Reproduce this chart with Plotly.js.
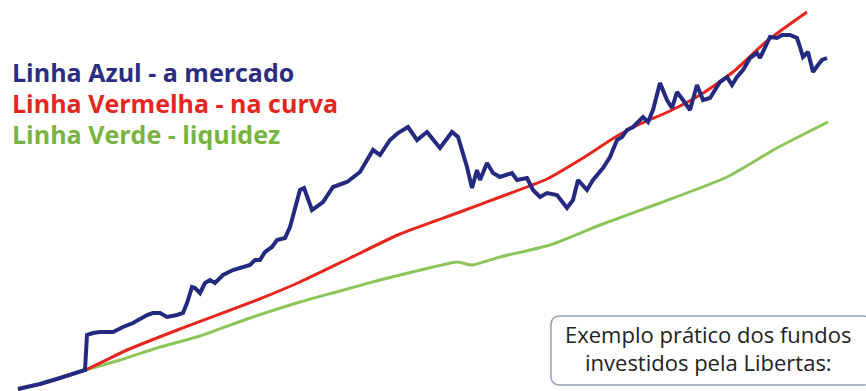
<!DOCTYPE html>
<html><head><meta charset="utf-8">
<script src="https://cdn.plot.ly/plotly-3.0.1.min.js"></script>
<style>html,body{margin:0;padding:0;background:#fff}#chart{width:866px;height:391px}</style>
</head><body><div id="chart"></div>
<script>
// Blue line - a mercado (market value)
var blueX = [18,40,60,85,87,93,100,113,123,133,147,153,160,167,177,183,187,192,195,200,205,210,215,223,233,243,250,255,260,265,272,277,285,290,295,300,304,312,323,333,347,360,373,380,390,398,408,417,427,440,452,458,467,472,477,480,487,493,500,512,517,527,533,540,547,557,567,573,578,587,593,603,610,617,622,627,633,640,643,648,653,660,667,672,677,683,690,697,703,710,720,727,732,737,743,750,757,760,770,777,782,790,797,800,803,808,813,818,822,827];
var blueY = [2,7,13,21,56,58,59,59,64,68,76,78,78,74,76,78,88,104,103,98,108,111,108,116,121,124,126,131,131,139,144,151,153,164,181,201,203,181,189,204,209,219,241,236,251,258,264,251,259,243,259,254,224,203,221,211,228,218,214,218,211,213,201,194,198,196,183,191,211,201,211,223,234,251,254,261,264,271,274,269,281,308,291,283,299,291,281,306,291,293,309,314,306,314,321,333,338,333,354,353,356,356,353,344,334,339,319,326,331,333];
// Red line - na curva
var redX = [18,40,60,85,127,180,257,300,350,400,460,500,547,583,617,640,670,700,733,767,807];
var redY = [2,7,13,21,41,62,91,109,133,157,179,194,212,233,255,267,280,296,319,350,379];
// Green line - liquidez
var greenX = [85,120,157,200,250,300,340,380,433,457,472,500,550,600,660,727,777,828];
var greenY = [21,31,43,55,73,89,100,111,124,129,126,134,146,166,188,214,243,269];

var legendTexts = ['Linha Azul - a mercado','Linha Vermelha - na curva','Linha Verde - liquidez'];
var legendColors = ['#2b2d82','#e52620','#79b443'];
var boxLines = ['Exemplo prático dos fundos','investidos pela Libertas:'];

var traces = [
  {x: greenX, y: greenY, mode:'lines', line:{color:'#8cc65a', width:3, shape:'spline', smoothing:0.6}, hoverinfo:'skip'},
  {x: redX, y: redY, mode:'lines', line:{color:'#e8251c', width:3, shape:'spline', smoothing:0.6}, hoverinfo:'skip'},
  {x: blueX, y: blueY, mode:'lines', line:{color:'#232a7f', width:4, shape:'linear'}, hoverinfo:'skip'}
];

var ann = [];
var legY = [319,288,257];
for (var i=0;i<legendTexts.length;i++){
  ann.push({x:10, y:legY[i], xref:'x', yref:'y', xanchor:'left', yanchor:'middle', showarrow:false,
    text:'<b>'+legendTexts[i]+'</b>', font:{family:'Open Sans', size:25, color:legendColors[i]}});
}
var boxY = [57,29];
for (var j=0;j<boxLines.length;j++){
  ann.push({x:708, y:boxY[j], xref:'x', yref:'y', xanchor:'center', yanchor:'middle', showarrow:false,
    text:boxLines[j], font:{family:'Open Sans', size:22, color:'#222222'}});
}

var r = 9, bx0 = 551, bx1 = 872, by0 = 6, by1 = 75;
var boxPath = 'M '+(bx0+r)+','+by1+' L '+(bx1-r)+','+by1+' Q '+bx1+','+by1+' '+bx1+','+(by1-r)+
  ' L '+bx1+','+(by0+r)+' Q '+bx1+','+by0+' '+(bx1-r)+','+by0+' L '+(bx0+r)+','+by0+' Q '+bx0+','+by0+' '+bx0+','+(by0+r)+
  ' L '+bx0+','+(by1-r)+' Q '+bx0+','+by1+' '+(bx0+r)+','+by1+' Z';

var layout = {
  width:866, height:391, margin:{l:0,r:0,t:0,b:0},
  paper_bgcolor:'#ffffff', plot_bgcolor:'#ffffff', showlegend:false,
  xaxis:{range:[0,866], visible:false, fixedrange:true},
  yaxis:{range:[0,391], visible:false, fixedrange:true},
  annotations: ann,
  shapes:[{type:'path', xref:'x', yref:'y', path:boxPath, line:{color:'#94a0b4', width:1.5}, fillcolor:'rgba(255,255,255,0)', layer:'below'}]
};
Plotly.newPlot('chart', traces, layout, {staticPlot:true, displayModeBar:false});
</script></body></html>
